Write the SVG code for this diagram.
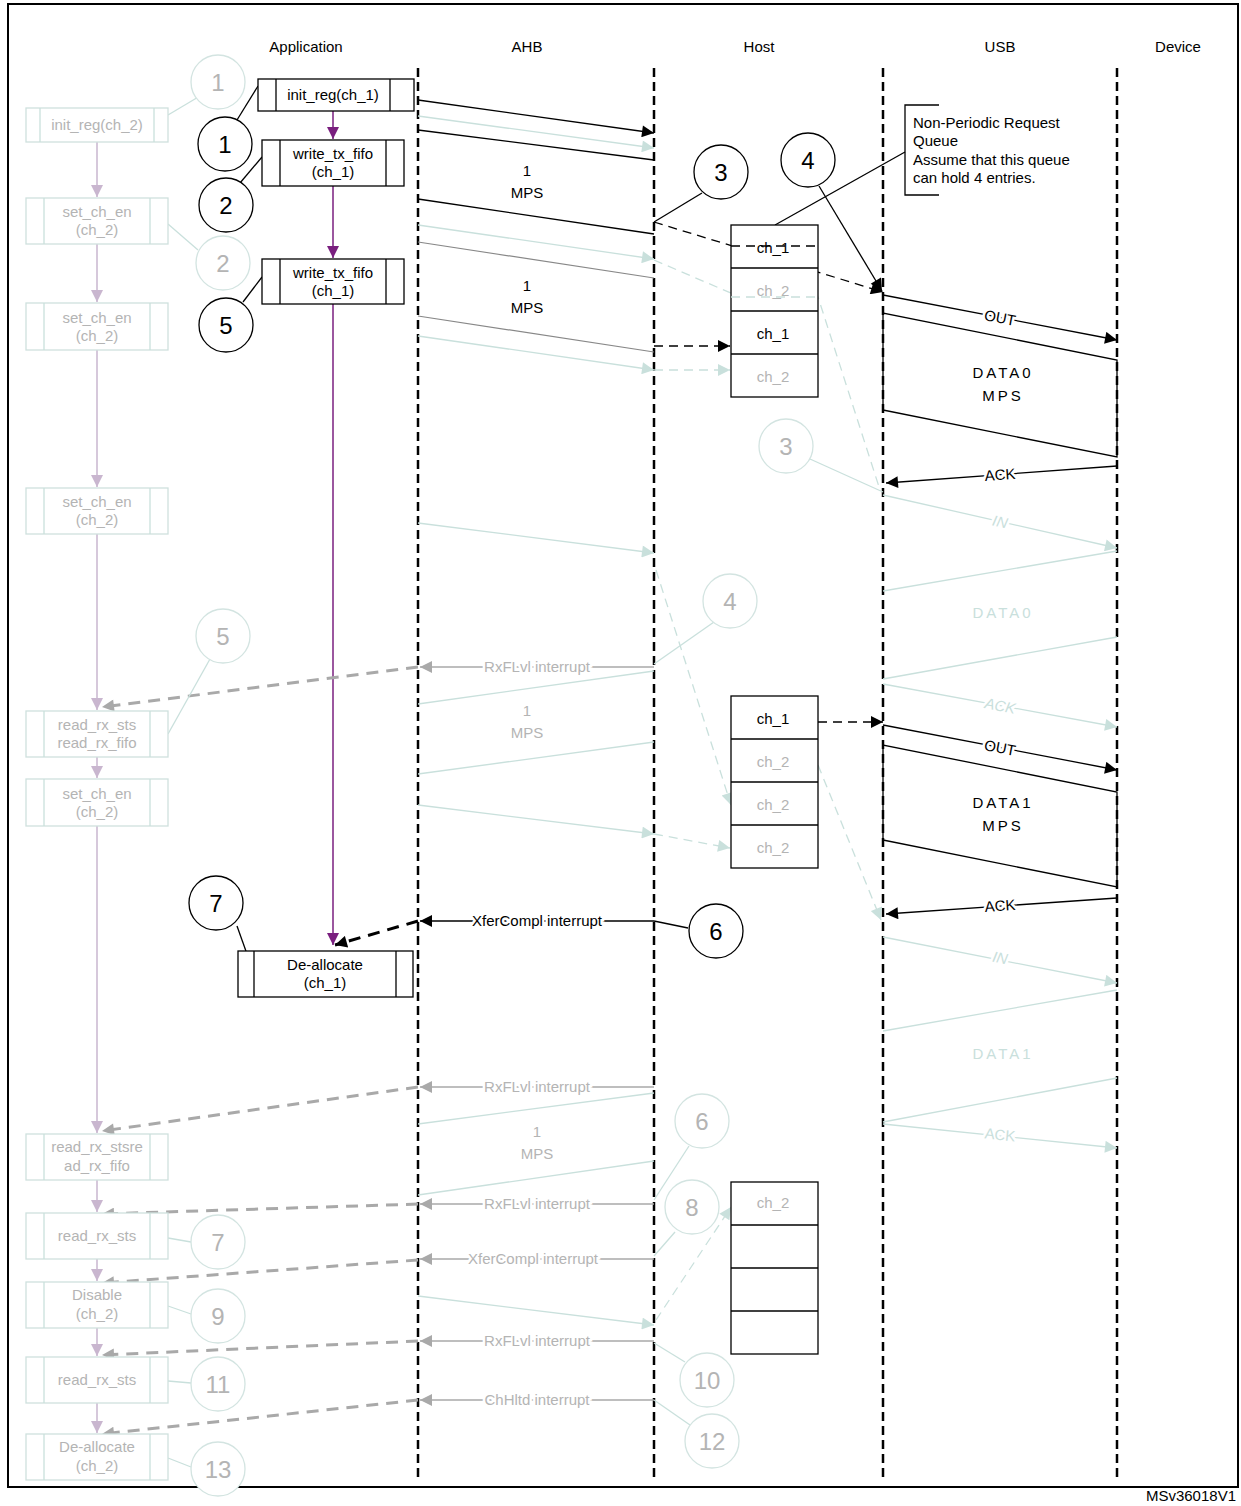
<svg xmlns="http://www.w3.org/2000/svg" width="1241" height="1506" viewBox="0 0 1241 1506">
<defs>
<marker id="abk" viewBox="0 0 10 10" refX="10" refY="5" markerWidth="14" markerHeight="12" orient="auto" markerUnits="userSpaceOnUse"><path d="M0,0L10,5L0,10z" fill="#000"/></marker>
<marker id="ag" viewBox="0 0 10 10" refX="10" refY="5" markerWidth="14" markerHeight="12" orient="auto" markerUnits="userSpaceOnUse"><path d="M0,0L10,5L0,10z" fill="#a9a9a9"/></marker>
<marker id="at" viewBox="0 0 10 10" refX="10" refY="5" markerWidth="14" markerHeight="12" orient="auto" markerUnits="userSpaceOnUse"><path d="M0,0L10,5L0,10z" fill="#c9e0dc"/></marker>
<marker id="ap" viewBox="0 0 10 10" refX="10" refY="5" markerWidth="12" markerHeight="12" orient="auto" markerUnits="userSpaceOnUse"><path d="M0,0L10,5L0,10z" fill="#7a1f7f"/></marker>
<marker id="al" viewBox="0 0 10 10" refX="10" refY="5" markerWidth="12" markerHeight="12" orient="auto" markerUnits="userSpaceOnUse"><path d="M0,0L10,5L0,10z" fill="#c9b6cf"/></marker>
</defs>
<style>
text{font-family:"Liberation Sans",Arial,sans-serif;font-size:15px;text-anchor:middle}
.hd{font-size:15px}
.bk{fill:#000}
.fg{fill:#b4b4b4}
.ft{fill:#c9e0dc}
.lab{paint-order:stroke;stroke:#fff;stroke-width:5px}
.life{stroke:#000;stroke-width:2.5;stroke-dasharray:9,5;fill:none}
.box{fill:#fff;stroke:#000;stroke-width:1.3}
.fbox{fill:#fff;stroke:#cfe1de;stroke-width:1.3}
.cir{fill:#fff;stroke:#000;stroke-width:1.3}
.fcir{fill:#fff;stroke:#d3e4e1;stroke-width:1.3}
.num{font-size:24px}
.bl{stroke:#000;stroke-width:1.3;fill:none}
.tl{stroke:#c9e0dc;stroke-width:1.3;fill:none}
.gl{stroke:#a9a9a9;stroke-width:1.3;fill:none}
.gd{stroke:#a9a9a9;stroke-width:3;stroke-dasharray:12,8;fill:none}
.sp{letter-spacing:3px}
.st{text-anchor:start}
</style>
<rect x="8" y="4" width="1230" height="1483" fill="none" stroke="#000" stroke-width="2"/>
<g id="headers">
<text class="hd" x="306" y="52">Application</text>
<text class="hd" x="527" y="52">AHB</text>
<text class="hd" x="759" y="52">Host</text>
<text class="hd" x="1000" y="52">USB</text>
<text class="hd" x="1178" y="52">Device</text>
</g>
<g id="lifelines">
<line class="life" x1="418" y1="68" x2="418" y2="1482"/>
<line class="life" x1="654" y1="68" x2="654" y2="1482"/>
<line class="life" x1="883" y1="68" x2="883" y2="1482"/>
<line class="life" x1="1117" y1="68" x2="1117" y2="1482"/>
</g>
<g id="connectors">
<g stroke="#c9b6cf" stroke-width="1.5" marker-end="url(#al)">
<line x1="97" y1="142" x2="97" y2="197"/>
<line x1="97" y1="244" x2="97" y2="302"/>
<line x1="97" y1="350" x2="97" y2="487"/>
<line x1="97" y1="534" x2="97" y2="710"/>
<line x1="97" y1="757" x2="97" y2="778"/>
<line x1="97" y1="826" x2="97" y2="1133"/>
<line x1="97" y1="1180" x2="97" y2="1212"/>
<line x1="97" y1="1259" x2="97" y2="1281"/>
<line x1="97" y1="1328" x2="97" y2="1356"/>
<line x1="97" y1="1403" x2="97" y2="1433"/>
</g>
<g stroke="#7a1f7f" stroke-width="1.5" marker-end="url(#ap)">
<line x1="333" y1="111" x2="333" y2="139"/>
<line x1="333" y1="186" x2="333" y2="258"/>
<line x1="333" y1="304" x2="333" y2="945"/>
</g>
<line class="bl" x1="418" y1="100" x2="654" y2="133" marker-end="url(#abk)"/>
<line class="tl" x1="418" y1="116" x2="654" y2="148" marker-end="url(#at)"/>
<line class="bl" x1="418" y1="130" x2="654" y2="160"/>
<line class="bl" x1="418" y1="199" x2="654" y2="234"/>
<text class="bk" x="527" y="176">1</text><text class="bk" x="527" y="198">MPS</text>
<line class="tl" x1="418" y1="225" x2="654" y2="259" marker-end="url(#at)"/>
<line stroke="#888" stroke-width="1.2" x1="418" y1="242" x2="654" y2="278"/>
<text class="bk" x="527" y="291">1</text><text class="bk" x="527" y="313">MPS</text>
<line stroke="#888" stroke-width="1.2" x1="418" y1="316" x2="654" y2="352"/>
<line class="tl" x1="418" y1="336" x2="654" y2="370" marker-end="url(#at)"/>
<line class="bl" stroke-dasharray="9,6" x1="654" y1="222" x2="883" y2="292" marker-end="url(#abk)"/>
<line class="bl" stroke-dasharray="9,6" x1="654" y1="346" x2="730" y2="346" marker-end="url(#abk)"/>
<line class="tl" stroke-dasharray="9,6" x1="654" y1="370" x2="730" y2="370" marker-end="url(#at)"/>
<polyline class="tl" stroke-dasharray="9,6" points="654,260 740,297 818,297 880,490"/>
<line class="bl" x1="883" y1="295" x2="1117" y2="340" marker-end="url(#abk)"/>
<text class="bk lab" x="1000" y="323" transform="rotate(10.9 1000 318)">OUT</text>
<polyline class="bl" points="883,410 883,313 1117,360 1117,457 883,410"/>
<text class="bk sp" x="1003" y="378">DATA0</text><text class="bk sp" x="1003" y="401">MPS</text>
<line class="bl" x1="1117" y1="466" x2="886" y2="483" marker-end="url(#abk)"/>
<text class="bk lab" x="1000" y="480" transform="rotate(-4 1000 475)">ACK</text>
<line class="tl" x1="883" y1="495" x2="1117" y2="548" marker-end="url(#at)"/>
<text class="ft lab" x="1000" y="527" transform="rotate(12 1000 522)" font-style="italic">IN</text>
<line class="tl" x1="883" y1="591" x2="1117" y2="551"/>
<text class="ft sp" x="1003" y="618">DATA0</text>
<line class="tl" x1="883" y1="679" x2="1117" y2="637"/>
<line class="tl" x1="883" y1="684" x2="1117" y2="727" marker-end="url(#at)"/>
<text class="ft lab" x="1000" y="711" transform="rotate(10.5 1000 706)" font-style="italic">ACK</text>
<line class="bl" stroke-dasharray="9,6" x1="818" y1="722" x2="883" y2="722" marker-end="url(#abk)"/>
<line class="bl" x1="883" y1="725" x2="1117" y2="770" marker-end="url(#abk)"/>
<text class="bk lab" x="1000" y="753" transform="rotate(10.9 1000 748)">OUT</text>
<polyline class="bl" points="883,840 883,745 1117,792 1117,887 883,840"/>
<text class="bk sp" x="1003" y="808">DATA1</text><text class="bk sp" x="1003" y="831">MPS</text>
<line class="bl" x1="1117" y1="898" x2="886" y2="914" marker-end="url(#abk)"/>
<text class="bk lab" x="1000" y="911" transform="rotate(-4 1000 906)">ACK</text>
<line class="tl" x1="883" y1="937" x2="1117" y2="983" marker-end="url(#at)"/>
<text class="ft lab" x="1000" y="963" transform="rotate(11 1000 958)" font-style="italic">IN</text>
<line class="tl" x1="883" y1="1031" x2="1117" y2="990"/>
<text class="ft sp" x="1003" y="1059">DATA1</text>
<line class="tl" x1="883" y1="1122" x2="1117" y2="1078"/>
<line class="tl" x1="883" y1="1124" x2="1117" y2="1148" marker-end="url(#at)"/>
<text class="ft lab" x="1000" y="1140" transform="rotate(6 1000 1135)">ACK</text>
<line class="tl" x1="418" y1="523" x2="654" y2="553" marker-end="url(#at)"/>
<line class="tl" stroke-dasharray="9,6" x1="656" y1="570" x2="731" y2="805" marker-end="url(#at)"/>
<line class="tl" stroke-dasharray="9,6" x1="818" y1="765" x2="881" y2="920" marker-end="url(#at)"/>
<line class="tl" x1="418" y1="704" x2="654" y2="671"/>
<text class="fg" x="527" y="716">1</text><text class="fg" x="527" y="738">MPS</text>
<line class="tl" x1="418" y1="774" x2="654" y2="742"/>
<line class="tl" x1="418" y1="805" x2="654" y2="834" marker-end="url(#at)"/>
<line class="tl" stroke-dasharray="9,6" x1="654" y1="834" x2="730" y2="848" marker-end="url(#at)"/>
<line class="gl" x1="654" y1="667" x2="420" y2="667" marker-end="url(#ag)"/>
<text class="fg lab" x="537" y="672">RxFLvl interrupt</text>
<line class="gd" x1="418" y1="667" x2="102" y2="707" marker-end="url(#ag)"/>
<line class="bl" x1="654" y1="921" x2="420" y2="921" marker-end="url(#abk)"/>
<text class="bk lab" x="537" y="926">XferCompl interrupt</text>
<line stroke="#000" stroke-width="3" stroke-dasharray="12,8" x1="418" y1="921" x2="335" y2="945" marker-end="url(#abk)"/>
<line class="gl" x1="654" y1="1087" x2="420" y2="1087" marker-end="url(#ag)"/>
<text class="fg lab" x="537" y="1092">RxFLvl interrupt</text>
<line class="gd" x1="418" y1="1087" x2="102" y2="1131" marker-end="url(#ag)"/>
<line class="tl" x1="418" y1="1124" x2="654" y2="1093"/>
<text class="fg" x="537" y="1137">1</text><text class="fg" x="537" y="1159">MPS</text>
<line class="tl" x1="418" y1="1195" x2="654" y2="1161"/>
<line class="gl" x1="654" y1="1204" x2="420" y2="1204" marker-end="url(#ag)"/>
<text class="fg lab" x="537" y="1209">RxFLvl interrupt</text>
<line class="gd" x1="418" y1="1204" x2="102" y2="1214" marker-end="url(#ag)"/>
<line class="gl" x1="654" y1="1259" x2="420" y2="1259" marker-end="url(#ag)"/>
<text class="fg lab" x="533" y="1264">XferCompl interrupt</text>
<line class="gd" x1="418" y1="1260" x2="102" y2="1283" marker-end="url(#ag)"/>
<line class="tl" x1="418" y1="1296" x2="654" y2="1325" marker-end="url(#at)"/>
<line class="tl" stroke-dasharray="9,6" x1="656" y1="1320" x2="731" y2="1207" marker-end="url(#at)"/>
<line class="gl" x1="654" y1="1341" x2="420" y2="1341" marker-end="url(#ag)"/>
<text class="fg lab" x="537" y="1346">RxFLvl interrupt</text>
<line class="gd" x1="418" y1="1341" x2="102" y2="1355" marker-end="url(#ag)"/>
<line class="gl" x1="654" y1="1400" x2="420" y2="1400" marker-end="url(#ag)"/>
<text class="fg lab" x="537" y="1405">ChHltd interrupt</text>
<line class="gd" x1="418" y1="1400" x2="102" y2="1434" marker-end="url(#ag)"/>
<g class="bl">
<line x1="237" y1="120" x2="258" y2="86"/>
<line x1="240" y1="183" x2="262" y2="157"/>
<line x1="243" y1="302" x2="262" y2="277"/>
<line x1="702" y1="193" x2="654" y2="222"/>
<line x1="237" y1="926" x2="252" y2="968"/>
<line x1="688" y1="928" x2="654" y2="921"/>
<line x1="775" y1="225" x2="905" y2="152"/>
</g>
<line class="bl" x1="819" y1="186" x2="882" y2="291" marker-end="url(#abk)"/>
<g class="tl">
<line x1="168" y1="115" x2="200" y2="96"/>
<line x1="168" y1="224" x2="198" y2="250"/>
<line x1="210" y1="659" x2="168" y2="734"/>
<line x1="810" y1="459" x2="883" y2="492"/>
<line x1="714" y1="622" x2="654" y2="664"/>
<line x1="689" y1="1146" x2="654" y2="1200"/>
<line x1="675" y1="1232" x2="654" y2="1256"/>
<line x1="685" y1="1362" x2="654" y2="1343"/>
<line x1="690" y1="1425" x2="654" y2="1400"/>
<line x1="168" y1="1238" x2="191" y2="1242"/>
<line x1="168" y1="1306" x2="191" y2="1314"/>
<line x1="168" y1="1381" x2="191" y2="1383"/>
<line x1="168" y1="1458" x2="191" y2="1467"/>
</g>
</g>
<g id="note">
<polyline class="bl" points="939,105 905,105 905,195 939,195"/>
<text class="bk st" x="913" y="128">Non-Periodic Request</text>
<text class="bk st" x="913" y="146">Queue</text>
<text class="bk st" x="913" y="165">Assume that this queue</text>
<text class="bk st" x="913" y="183">can hold 4 entries.</text>
</g>
<g id="app-ch1">
<g id="n-init1"><rect class="box" x="258" y="79" width="156" height="32"/><line class="bl" x1="276" y1="79" x2="276" y2="111"/><line class="bl" x1="390" y1="79" x2="390" y2="111"/><text class="bk" x="333" y="100">init_reg(ch_1)</text></g>
<g id="n-wtf1"><rect class="box" x="262" y="140" width="142" height="46"/><line class="bl" x1="280" y1="140" x2="280" y2="186"/><line class="bl" x1="386" y1="140" x2="386" y2="186"/><text class="bk" x="333" y="159">write_tx_fifo</text><text class="bk" x="333" y="177">(ch_1)</text></g>
<g id="n-wtf2"><rect class="box" x="262" y="259" width="142" height="45"/><line class="bl" x1="280" y1="259" x2="280" y2="304"/><line class="bl" x1="386" y1="259" x2="386" y2="304"/><text class="bk" x="333" y="278">write_tx_fifo</text><text class="bk" x="333" y="296">(ch_1)</text></g>
<g id="n-dealloc1"><rect class="box" x="238" y="951" width="175" height="46"/><line class="bl" x1="254" y1="951" x2="254" y2="997"/><line class="bl" x1="396" y1="951" x2="396" y2="997"/><text class="bk" x="325" y="970">De-allocate</text><text class="bk" x="325" y="988">(ch_1)</text></g>
</g>
<g id="app-ch2">
<g id="f1"><rect class="fbox" x="26" y="108" width="142" height="34"/><line class="tl" x1="40" y1="108" x2="40" y2="142"/><line class="tl" x1="154" y1="108" x2="154" y2="142"/><text class="fg" x="97" y="130">init_reg(ch_2)</text></g>
<g id="f2"><rect class="fbox" x="26" y="198" width="142" height="46"/><line class="tl" x1="44" y1="198" x2="44" y2="244"/><line class="tl" x1="150" y1="198" x2="150" y2="244"/><text class="fg" x="97" y="217">set_ch_en</text><text class="fg" x="97" y="235">(ch_2)</text></g>
<g id="f3"><rect class="fbox" x="26" y="303" width="142" height="47"/><line class="tl" x1="44" y1="303" x2="44" y2="350"/><line class="tl" x1="150" y1="303" x2="150" y2="350"/><text class="fg" x="97" y="323">set_ch_en</text><text class="fg" x="97" y="341">(ch_2)</text></g>
<g id="f4"><rect class="fbox" x="26" y="488" width="142" height="46"/><line class="tl" x1="44" y1="488" x2="44" y2="534"/><line class="tl" x1="150" y1="488" x2="150" y2="534"/><text class="fg" x="97" y="507">set_ch_en</text><text class="fg" x="97" y="525">(ch_2)</text></g>
<g id="f5"><rect class="fbox" x="26" y="711" width="142" height="46"/><line class="tl" x1="44" y1="711" x2="44" y2="757"/><line class="tl" x1="150" y1="711" x2="150" y2="757"/><text class="fg" x="97" y="730">read_rx_sts</text><text class="fg" x="97" y="748">read_rx_fifo</text></g>
<g id="f6"><rect class="fbox" x="26" y="779" width="142" height="47"/><line class="tl" x1="44" y1="779" x2="44" y2="826"/><line class="tl" x1="150" y1="779" x2="150" y2="826"/><text class="fg" x="97" y="799">set_ch_en</text><text class="fg" x="97" y="817">(ch_2)</text></g>
<g id="f7"><rect class="fbox" x="26" y="1134" width="142" height="46"/><line class="tl" x1="44" y1="1134" x2="44" y2="1180"/><line class="tl" x1="150" y1="1134" x2="150" y2="1180"/><text class="fg" x="97" y="1152">read_rx_stsre</text><text class="fg" x="97" y="1171">ad_rx_fifo</text></g>
<g id="f8"><rect class="fbox" x="26" y="1213" width="142" height="46"/><line class="tl" x1="44" y1="1213" x2="44" y2="1259"/><line class="tl" x1="150" y1="1213" x2="150" y2="1259"/><text class="fg" x="97" y="1241">read_rx_sts</text></g>
<g id="f9"><rect class="fbox" x="26" y="1282" width="142" height="46"/><line class="tl" x1="44" y1="1282" x2="44" y2="1328"/><line class="tl" x1="150" y1="1282" x2="150" y2="1328"/><text class="fg" x="97" y="1300">Disable</text><text class="fg" x="97" y="1319">(ch_2)</text></g>
<g id="f10"><rect class="fbox" x="26" y="1357" width="142" height="46"/><line class="tl" x1="44" y1="1357" x2="44" y2="1403"/><line class="tl" x1="150" y1="1357" x2="150" y2="1403"/><text class="fg" x="97" y="1385">read_rx_sts</text></g>
<g id="f11"><rect class="fbox" x="26" y="1434" width="142" height="46"/><line class="tl" x1="44" y1="1434" x2="44" y2="1480"/><line class="tl" x1="150" y1="1434" x2="150" y2="1480"/><text class="fg" x="97" y="1452">De-allocate</text><text class="fg" x="97" y="1471">(ch_2)</text></g>
</g>
<g id="queues">
<g id="q1"><rect class="box" x="731" y="225" width="87" height="172"/><line class="bl" x1="731" y1="268" x2="818" y2="268"/><line class="bl" x1="731" y1="311" x2="818" y2="311"/><line class="bl" x1="731" y1="354" x2="818" y2="354"/>
<text class="bk" x="773" y="253">ch_1</text><text class="fg" x="773" y="296">ch_2</text><text class="bk" x="773" y="339">ch_1</text><text class="fg" x="773" y="382">ch_2</text></g>
<line class="bl" stroke-dasharray="9,6" x1="731" y1="246" x2="818" y2="246"/>
<line class="tl" stroke-dasharray="9,6" x1="731" y1="297" x2="818" y2="297"/>
<g id="q2"><rect class="box" x="731" y="696" width="87" height="172"/><line class="bl" x1="731" y1="739" x2="818" y2="739"/><line class="bl" x1="731" y1="782" x2="818" y2="782"/><line class="bl" x1="731" y1="825" x2="818" y2="825"/>
<text class="bk" x="773" y="724">ch_1</text><text class="fg" x="773" y="767">ch_2</text><text class="fg" x="773" y="810">ch_2</text><text class="fg" x="773" y="853">ch_2</text></g>
<g id="q3"><rect class="box" x="731" y="1182" width="87" height="172"/><line class="bl" x1="731" y1="1225" x2="818" y2="1225"/><line class="bl" x1="731" y1="1268" x2="818" y2="1268"/><line class="bl" x1="731" y1="1311" x2="818" y2="1311"/>
<text class="fg" x="773" y="1208">ch_2</text></g>
</g>
<g id="markers-black">
<g id="c1"><circle class="cir" cx="225" cy="144" r="27"/><text class="bk num" x="225" y="153">1</text></g>
<g id="c2"><circle class="cir" cx="226" cy="205" r="27"/><text class="bk num" x="226" y="214">2</text></g>
<g id="c5"><circle class="cir" cx="226" cy="325" r="27"/><text class="bk num" x="226" y="334">5</text></g>
<g id="c3"><circle class="cir" cx="721" cy="172" r="27"/><text class="bk num" x="721" y="181">3</text></g>
<g id="c4"><circle class="cir" cx="808" cy="160" r="27"/><text class="bk num" x="808" y="169">4</text></g>
<g id="c7"><circle class="cir" cx="216" cy="903" r="27"/><text class="bk num" x="216" y="912">7</text></g>
<g id="c6"><circle class="cir" cx="716" cy="931" r="27"/><text class="bk num" x="716" y="940">6</text></g>
</g>
<g id="markers-faded">
<g><circle class="fcir" cx="218" cy="82" r="27"/><text class="fg num" x="218" y="91">1</text></g>
<g><circle class="fcir" cx="223" cy="263" r="27"/><text class="fg num" x="223" y="272">2</text></g>
<g><circle class="fcir" cx="223" cy="636" r="27"/><text class="fg num" x="223" y="645">5</text></g>
<g><circle class="fcir" cx="786" cy="446" r="27"/><text class="fg num" x="786" y="455">3</text></g>
<g><circle class="fcir" cx="730" cy="601" r="27"/><text class="fg num" x="730" y="610">4</text></g>
<g><circle class="fcir" cx="702" cy="1121" r="27"/><text class="fg num" x="702" y="1130">6</text></g>
<g><circle class="fcir" cx="218" cy="1242" r="27"/><text class="fg num" x="218" y="1251">7</text></g>
<g><circle class="fcir" cx="692" cy="1207" r="27"/><text class="fg num" x="692" y="1216">8</text></g>
<g><circle class="fcir" cx="218" cy="1316" r="27"/><text class="fg num" x="218" y="1325">9</text></g>
<g><circle class="fcir" cx="707" cy="1380" r="27"/><text class="fg num" x="707" y="1389">10</text></g>
<g><circle class="fcir" cx="218" cy="1384" r="27"/><text class="fg num" x="218" y="1393">11</text></g>
<g><circle class="fcir" cx="712" cy="1441" r="27"/><text class="fg num" x="712" y="1450">12</text></g>
<g><circle class="fcir" cx="218" cy="1469" r="27"/><text class="fg num" x="218" y="1478">13</text></g>
</g>
<text class="bk" x="1236" y="1501" style="text-anchor:end" font-size="13">MSv36018V1</text>
</svg>
